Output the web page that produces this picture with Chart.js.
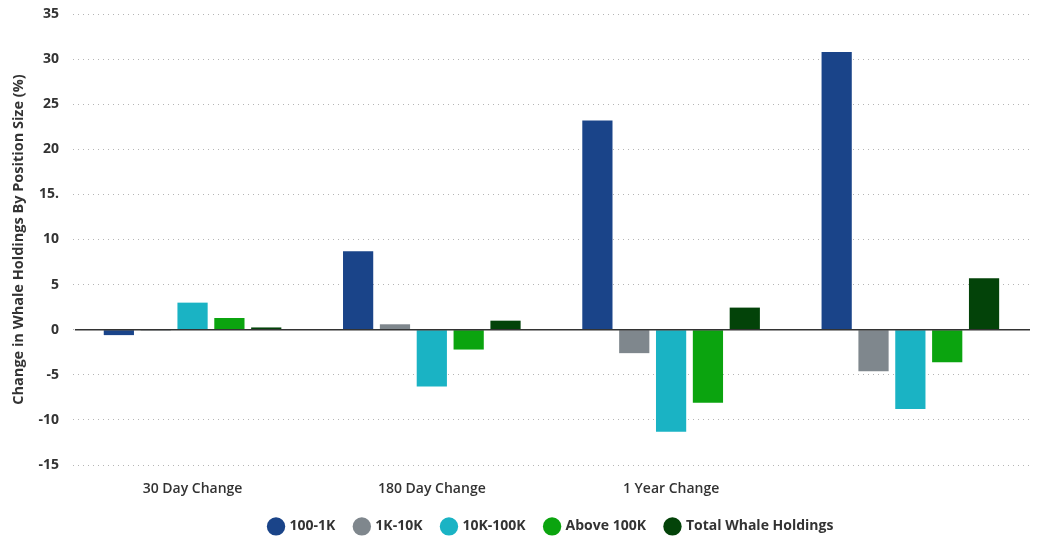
<!DOCTYPE html>
<html>
<head>
<meta charset="utf-8">
<script src="https://cdn.jsdelivr.net/npm/chart.js@4.4.0/dist/chart.umd.min.js"></script>
<style>
  html, body { margin: 0; padding: 0; background: #fff; }
  #wrap { width: 1044px; height: 540px; }
</style>
</head>
<body>
<div id="wrap"><canvas id="myChart"></canvas></div>
<script>
var categories = ['30 Day Change', '180 Day Change', '1 Year Change', ''];
var seriesNames = ['100-1K', '1K-10K', '10K-100K', 'Above 100K', 'Total Whale Holdings'];
var small = [-0.6, 8.7, 23.2, 30.8];
var mid = [-0.1, 0.6, -2.6, -4.6];
var large = [3.0, -6.3, -11.3, -8.8];
var above = [1.3, -2.2, -8.1, -3.6];
var total = [0.25, 1.0, 2.45, 5.7];
var yTickLabels = ['-15', '-10', '-5', '0', '5', '10', '15.', '20', '25', '30', '35'];
var colors = ['#1a4489', '#7f878d', '#1ab3c4', '#0ba40f', '#034309'];

var family = "'Open Sans', sans-serif";

var zeroLine = {
  id: 'zeroLine',
  afterDatasetsDraw: function(chart) {
    var y = chart.scales.y.getPixelForValue(0);
    var area = chart.chartArea;
    var c = chart.ctx;
    c.save();
    c.strokeStyle = '#333';
    c.lineWidth = 1.5;
    c.beginPath();
    c.moveTo(area.left + 2, y);
    c.lineTo(area.right, y);
    c.stroke();
    c.restore();
  }
};

var allData = [small, mid, large, above, total];
var datasets = seriesNames.map(function(name, i) {
  return {
    label: name,
    data: allData[i],
    backgroundColor: colors[i],
    borderWidth: 0,
    categoryPercentage: 0.77,
    barPercentage: 0.82
  };
});

var ctx = document.getElementById('myChart').getContext('2d');
var myChart = new Chart(ctx, {
  type: 'bar',
  data: { labels: categories, datasets: datasets },
  options: {
    responsive: true,
    maintainAspectRatio: false,
    animation: false,
    layout: { padding: { top: 14, right: 14, left: 8, bottom: -3.4 } },
    plugins: {
      legend: {
        position: 'bottom',
        fullSize: false,
        labels: {
          usePointStyle: true,
          pointStyle: 'circle',
          boxWidth: 13,
          boxHeight: 13,
          padding: 20,
          color: '#333',
          font: { family: family, size: 14, weight: '700' }
        }
      },
      tooltip: { enabled: false }
    },
    scales: {
      x: {
        grid: { display: false, drawTicks: false },
        border: { display: false },
        ticks: { color: '#333', font: { family: family, size: 14, weight: '600' }, padding: 15.6 },
        afterFit: function(scale) { scale.height = 34.4; }
      },
      y: {
        min: -15,
        max: 35,
        title: {
          display: true,
          text: 'Change in Whale Holdings By Position Size (%)',
          color: '#333',
          font: { family: family, size: 14.5, weight: '700' },
          padding: { top: 2, bottom: 9 }
        },
        grid: { color: '#b5b5b5', drawTicks: true, tickLength: 12, tickColor: 'rgba(0,0,0,0)', lineWidth: 1 },
        border: { display: false, dash: [1, 4] },
        ticks: {
          stepSize: 5,
          color: '#333',
          font: { family: family, size: 14, weight: '700' },
          padding: 2,
          callback: function(value, index) { return yTickLabels[index]; }
        }
      }
    }
  },
  plugins: [zeroLine]
});
</script>
</body>
</html>
